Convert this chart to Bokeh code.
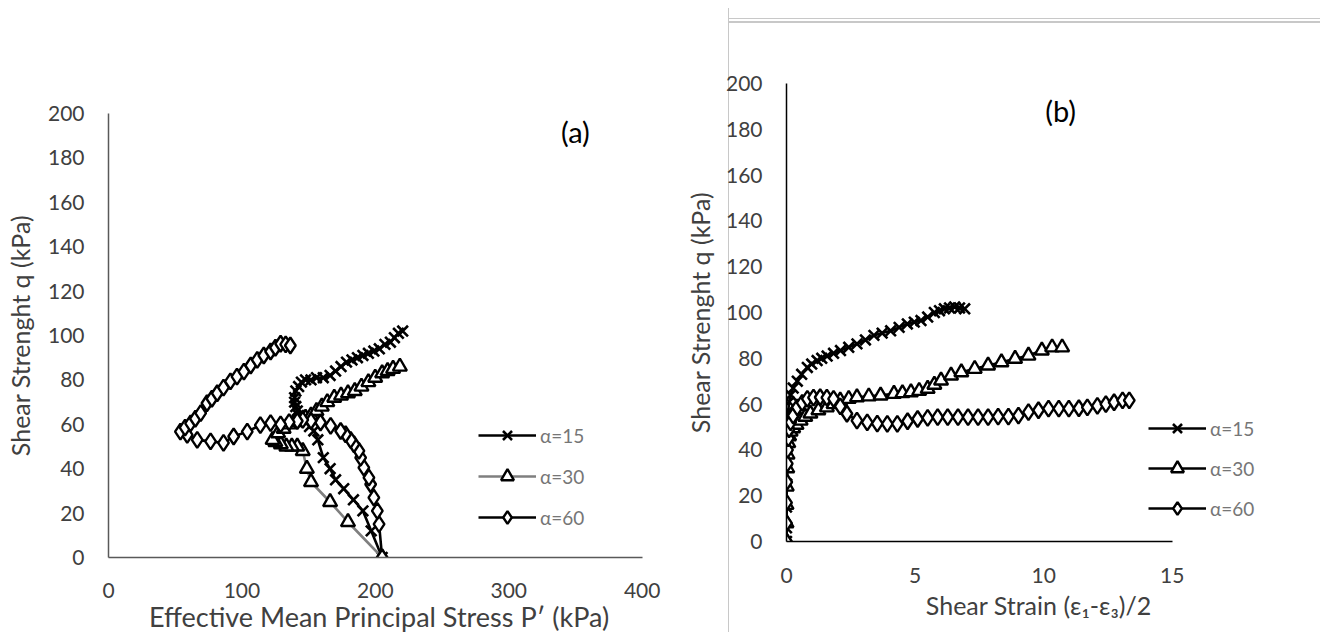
from bokeh.plotting import figure
from bokeh.layouts import row
from bokeh.models import FixedTicker, Legend, LegendItem, Label, Range1d
from bokeh.embed import file_html
from bokeh.resources import INLINE

FONT = "Lato"

# ---- (a) effective stress paths: p' (kPa) vs q (kPa) ----
p_a15 = [205.1, 196.9, 190.7, 183.6, 176.3, 170.2, 166.1, 161.0, 156.9, 153.9,
         150.7, 148.7, 146.6, 144.6, 142.5, 141.5, 140.4, 139.5, 139.5, 140.4,
         142.5, 144.6, 147.7, 151.8, 155.9, 161.0, 166.1, 170.2, 174.3, 178.4,
         182.5, 186.6, 190.7, 194.8, 198.9, 203.0, 207.2, 211.3, 214.3, 217.3, 220.5]
q_a15 = [0, 12, 21, 26, 31, 35, 40, 45, 53, 57,
         59, 61, 62, 63, 64, 66, 68, 70, 72, 75,
         77, 79, 80, 80, 81, 81, 82, 84, 86, 88,
         89, 90, 91, 92, 93, 94, 96, 97, 99, 101, 102]

p_a30 = [205.1, 179.5, 166.1, 151.8, 148.7, 145.6, 141.5, 137.4, 133.3, 129.2,
         125.1, 123.0, 127.1, 131.3, 135.4, 139.5, 143.6, 147.7, 151.8, 155.9,
         159.9, 164.0, 169.2, 174.3, 179.5, 184.6, 189.6, 194.8, 199.9, 205.1,
         209.2, 213.3, 218.4]
q_a30 = [0, 16, 25, 34, 40, 48, 50, 50, 50, 51,
         52, 53, 56, 58, 60, 61, 62, 63, 64, 66,
         68, 70, 72, 73, 74, 75, 77, 79, 81, 83,
         84, 85, 86]

p_a60 = [205.1, 202.8, 201.5, 198.9, 196.5, 195.2, 191.4, 189.0, 187.7, 184.0,
         181.5, 177.7, 174.0, 166.5, 158.9, 151.8, 145.6, 141.5, 135.4, 129.0,
         121.5, 113.8, 104.0, 93.8, 86.2, 76.5, 66.5, 59.0, 53.9, 57.4,
         61.5, 65.1, 69.1, 73.8, 77.5, 81.5, 86.2, 91.4, 96.3, 101.5,
         106.6, 111.5, 116.4, 121.5, 125.1, 129.0, 132.8, 136.3]
q_a60 = [0, 15, 21, 27, 33, 36, 40.5, 45, 48, 51,
         53, 55.5, 57, 59.3, 60.8, 61.5, 62, 61.5, 61, 60,
         60.5, 59.6, 56.7, 54.5, 51.6, 52.3, 53, 55.2, 56.7, 58.5,
         60.4, 62.5, 65, 69.5, 71.5, 74, 76.5, 79.3, 81.5, 83.7,
         86.5, 89, 91, 92.8, 94.5, 96.3, 96, 95.5]

# ---- (b) shear strain vs q (kPa) ----
e_b15 = [0, 0, 0, 0.01, 0.01, 0.03, 0.04, 0.07, 0.1, 0.16,
         0.26, 0.42, 0.59, 0.81, 0.98, 1.19, 1.37, 1.58, 1.83, 2.1,
         2.42, 2.74, 3.07, 3.4, 3.72, 4.05, 4.38, 4.7, 4.97, 5.23,
         5.49, 5.75, 5.95, 6.14, 6.34, 6.54, 6.73, 6.93]
q_b15 = [0, 6, 15, 25, 35, 45, 52, 57, 61, 64,
         67, 70, 73, 76, 77.5, 79, 80, 81, 82.2, 83.4,
         84.8, 86.3, 88, 90, 91, 92, 93.5, 95, 95.8, 96.5,
         98, 100, 100.8, 101.6, 102, 102.4, 102, 101.6]

e_b30 = [0, 0, 0, 0.01, 0.03, 0.04, 0.07, 0.1, 0.16, 0.26,
         0.39, 0.55, 0.73, 0.93, 1.24, 1.57, 1.83, 2.09, 2.42, 2.74,
         3.2, 3.66, 4.18, 4.51, 4.84, 5.16, 5.49, 5.75, 6.01, 6.4,
         6.8, 7.32, 7.84, 8.36, 8.89, 9.41, 9.93, 10.33, 10.72]
q_b30 = [0, 8, 16, 24, 32, 38, 43, 46, 48, 49.5,
         51, 52.8, 54.5, 55.9, 57.3, 58.6, 60, 61.6, 62.3, 63,
         63.4, 63.8, 64.5, 64.8, 65.2, 65.8, 66.7, 68.5, 70.3, 72.5,
         73.9, 75.4, 76.9, 78.3, 79.8, 81.2, 83.4, 84.8, 84.8]

e_b60 = [0, 0, 0, 0.01, 0.03, 0.04, 0.07, 0.1, 0.16, 0.26,
         0.42, 0.61, 0.81, 1.05, 1.31, 1.57, 1.83, 2.09, 2.35, 2.74,
         3.14, 3.53, 3.92, 4.31, 4.71, 5.1, 5.49, 5.88, 6.27, 6.67,
         7.06, 7.45, 7.84, 8.23, 8.63, 9.02, 9.41, 9.8, 10.19, 10.59,
         10.98, 11.37, 11.7, 12.09, 12.42, 12.74, 13.07, 13.33]
q_b60 = [0, 8, 17, 26, 34, 40, 45, 49, 52, 55,
         58.6, 60.5, 62.3, 62.8, 63, 62.8, 62.3, 59, 55.8, 52.8,
         52, 51.5, 51.4, 51.4, 52.5, 53.5, 54, 54.3, 54.3, 54.3,
         54.3, 54.3, 54.3, 54.5, 54.5, 55, 56.5, 57.3, 58, 58,
         58, 58.2, 58.6, 59.2, 60, 60.8, 61.6, 61.6]

series_names = ["α=15", "α=30", "α=60"]
q_ticks = list(range(0, 201, 20))
p_ticks = [0, 100, 200, 300, 400]
strain_ticks = [0, 5, 10, 15]

MARKERS = [
    dict(marker="x", size=15, line_color="black", line_width=2.6),
    dict(marker="triangle", size=14, fill_color="white", line_color="black", line_width=2.4),
    dict(marker="diamond", size=16, fill_color="white", line_color="black", line_width=2.4),
]

TICK_FONT = "21px"
TEXT_DARK = "#404040"


def dress_axes(p, axis_color, x_standoff, x_title_standoff, y_title_standoff, x_title_size):
    p.grid.visible = False
    p.outline_line_color = None
    for ax in (p.xaxis[0], p.yaxis[0]):
        ax.major_tick_line_color = None
        ax.minor_tick_line_color = None
        ax.major_tick_out = 0
        ax.major_tick_in = 0
        ax.minor_tick_out = 0
        ax.minor_tick_in = 0
        ax.axis_line_color = axis_color
        ax.axis_line_width = 1.5
        ax.major_label_text_font = FONT
        ax.major_label_text_font_size = TICK_FONT
        ax.major_label_text_color = TEXT_DARK
        ax.axis_label_text_font = FONT
        ax.axis_label_text_font_size = "25px"
        ax.axis_label_text_color = TEXT_DARK
        ax.axis_label_text_font_style = "normal"
    p.xaxis[0].axis_label_text_font_size = x_title_size
    p.yaxis[0].major_label_standoff = 24
    p.yaxis[0].axis_label_standoff = y_title_standoff
    p.xaxis[0].major_label_standoff = x_standoff
    p.xaxis[0].axis_label_standoff = x_title_standoff


def add_series(p, xs, ys, line_colors):
    legend_items = []
    for x, y, name, mk, lc in zip(xs, ys, series_names, MARKERS, line_colors):
        lr = p.line(x, y, line_color=lc, line_width=2.6)
        sr = p.scatter(x, y, **mk)
        legend_items.append(LegendItem(label=name, renderers=[lr, sr]))
    return legend_items


def make_legend(items, loc, spacing):
    return Legend(items=items, location=loc, orientation="vertical",
                  glyph_width=58, glyph_height=32, spacing=spacing,
                  label_standoff=4, padding=0, margin=0,
                  border_line_color=None, background_fill_alpha=0,
                  label_text_font=FONT, label_text_font_size="19px",
                  label_text_color="#767676", label_height=32)


# ---------------- panel (a) ----------------
pa = figure(frame_width=555, frame_height=444, output_backend="svg",
            toolbar_location=None, frame_align=False,
            x_range=Range1d(0, 416), y_range=Range1d(0, 200),
            min_border_left=108, min_border_right=15,
            min_border_top=113, min_border_bottom=75)
dress_axes(pa, "#595959", 25, -1, 10, "27px")
pa.xaxis[0].bounds = (p_ticks[0], p_ticks[-1])
pa.xaxis[0].ticker = FixedTicker(ticks=p_ticks)
pa.yaxis[0].ticker = FixedTicker(ticks=q_ticks)
pa.xaxis[0].axis_label = "Effective Mean Principal  Stress  P′ (kPa)"
pa.yaxis[0].axis_label = "Shear Strenght q (kPa)"
items_a = add_series(pa, [p_a15, p_a30, p_a60], [q_a15, q_a30, q_a60],
                     ["black", "#7f7f7f", "black"])
pa.add_layout(make_legend(items_a, (370, 24), 9))
pa.add_layout(Label(x=350, y=192, text="(a)", text_align="center",
                    text_baseline="middle", text_font=FONT,
                    text_font_size="29px", text_color="black"))

# ---------------- panel (b) ----------------
frame_css = ("linear-gradient(#c8c8c8,#c8c8c8) 50px 8px/1px 624px no-repeat, "
             "linear-gradient(#c8c8c8,#c8c8c8) 50px 18px/592px 1px no-repeat, "
             "linear-gradient(#c8c8c8,#c8c8c8) 50px 21px/592px 2px no-repeat, #ffffff")
pb = figure(frame_width=504, frame_height=458, output_backend="svg",
            toolbar_location=None, frame_align=False,
            x_range=Range1d(0, 19.6), y_range=Range1d(0, 200),
            min_border_left=108, min_border_right=48,
            min_border_top=83, min_border_bottom=91,
            background_fill_color=None, border_fill_color=None,
            styles={"background": frame_css})
dress_axes(pb, "black", 26, 4, 8, "25px")
pb.xaxis[0].bounds = (strain_ticks[0], strain_ticks[-1])
pb.xaxis[0].ticker = FixedTicker(ticks=strain_ticks)
pb.yaxis[0].ticker = FixedTicker(ticks=q_ticks)
pb.xaxis[0].axis_label = "Shear Strain (ε₁-ε₃)/2"
pb.yaxis[0].axis_label = "Shear Strenght q (kPa)"
items_b = add_series(pb, [e_b15, e_b30, e_b60], [q_b15, q_b30, q_b60],
                     ["black", "black", "black"])
pb.add_layout(make_legend(items_b, (362, 17), 8))
pb.add_layout(Label(x=10.66, y=188, text="(b)", text_align="center",
                    text_baseline="middle", text_font=FONT,
                    text_font_size="29px", text_color="black"))

layout = row(pa, pb, spacing=0)
html = file_html(layout, INLINE, title="Stress paths")
html = html.replace("<head>", "<head>\n<style>html,body{margin:0;padding:0;overflow:hidden;}</style>", 1)
open("out.html", "w").write(html)
